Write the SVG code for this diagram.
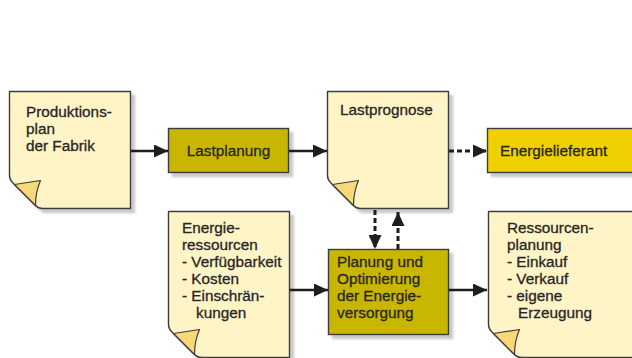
<svg xmlns="http://www.w3.org/2000/svg" width="632" height="358" viewBox="0 0 632 358">
<style>
.doc{fill:#fff4c6;stroke:#3c3c3c;stroke-width:1.4;stroke-linejoin:round}
.curl{fill:#f8d97a;stroke:#3c3c3c;stroke-width:1.2;stroke-linejoin:round}
.box{stroke:#3c3c3c;stroke-width:1.4}
.olive{fill:#c9b600}
.gold{fill:#f0d000}
.sh{filter:url(#shadow)}
text{font-family:"Liberation Sans",Arial,sans-serif;font-size:15.3px;fill:#262626;stroke:#262626;stroke-width:0.3}
.solid{fill:none;stroke:#1e1e1e;stroke-width:2.5}
.dot{fill:none;stroke:#1e1e1e;stroke-width:3;stroke-dasharray:5 3}
</style>
<defs>
<filter id="shadow" x="-10%" y="-10%" width="130%" height="130%">
<feDropShadow dx="4" dy="4" stdDeviation="1.2" flood-color="#8a8a8a" flood-opacity="0.45"/>
</filter>
<marker id="ah" markerUnits="userSpaceOnUse" markerWidth="14" markerHeight="13" refX="14" refY="6.5" orient="auto">
<path d="M0,0 L14,6.5 L0,13 Z" fill="#1e1e1e"/>
</marker>
</defs>
<g id="produktionsplan">
<path class="doc sh" d="M9.5,91.5 H130.5 V208.5 H42.5 Q38.5,208.5 35.5,205.5 L12.5,182.5 Q9.5,179.5 9.5,175.5 Z"/>
<path class="curl" d="M14.5,184.5 Q27.5,182.5 40.5,180.5 Q35.5,192 35.5,205.5 Z"/>
<text x="26" y="117">Produktions-</text>
<text x="26" y="134">plan</text>
<text x="26" y="151">der Fabrik</text>
</g>
<g id="lastplanung">
<rect class="box olive sh" x="168.5" y="128.5" width="120" height="44"/>
<text x="228.5" y="156" text-anchor="middle">Lastplanung</text>
</g>
<g id="lastprognose">
<path class="doc sh" d="M327.5,91.5 H448.5 V208.5 H360.5 Q356.5,208.5 353.5,205.5 L330.5,182.5 Q327.5,179.5 327.5,175.5 Z"/>
<path class="curl" d="M332.5,184.5 Q345.5,182.5 358.5,180.5 Q353.5,192 353.5,205.5 Z"/>
<text x="340" y="115">Lastprognose</text>
</g>
<g id="energielieferant">
<rect class="box gold sh" x="487.5" y="128.5" width="170" height="44"/>
<text x="500" y="156">Energielieferant</text>
</g>
<g id="energieressourcen">
<path class="doc sh" d="M168.5,211.5 H289.5 V357.5 H201.5 Q197.5,357.5 194.5,354.5 L171.5,331.5 Q168.5,328.5 168.5,324.5 Z"/>
<path class="curl" d="M173.5,333.5 Q186.5,331.5 199.5,329.5 Q194.5,341 194.5,354.5 Z"/>
<text x="182" y="233">Energie-</text>
<text x="182" y="250">ressourcen</text>
<text x="182" y="267">- Verfügbarkeit</text>
<text x="182" y="284">- Kosten</text>
<text x="182" y="301">- Einschrän-</text>
<text x="196" y="318">kungen</text>
</g>
<g id="planung">
<rect class="box olive sh" x="328.5" y="249.5" width="120" height="85"/>
<text x="337" y="267">Planung und</text>
<text x="337" y="284">Optimierung</text>
<text x="337" y="301">der Energie-</text>
<text x="337" y="318">versorgung</text>
</g>
<g id="ressourcenplanung">
<path class="doc sh" d="M488.5,211.5 H660 V357.5 H521.5 Q517.5,357.5 514.5,354.5 L491.5,331.5 Q488.5,328.5 488.5,324.5 Z"/>
<path class="curl" d="M493.5,333.5 Q506.5,331.5 519.5,329.5 Q514.5,341 514.5,354.5 Z"/>
<text x="507" y="233">Ressourcen-</text>
<text x="507" y="250">planung</text>
<text x="507" y="267">- Einkauf</text>
<text x="507" y="284">- Verkauf</text>
<text x="507" y="301">- eigene</text>
<text x="518" y="318">Erzeugung</text>
</g>
<g id="connectors">
<path class="solid" d="M131,151 H168" marker-end="url(#ah)"/>
<path class="solid" d="M289,151 H327" marker-end="url(#ah)"/>
<path class="dot" d="M449,151 H487" marker-end="url(#ah)"/>
<path class="solid" d="M290,290 H328" marker-end="url(#ah)"/>
<path class="solid" d="M449,290 H487" marker-end="url(#ah)"/>
<path class="dot" d="M375,210 V249" marker-end="url(#ah)"/>
<path class="dot" d="M398,249 V212" marker-end="url(#ah)"/>
</g>
</svg>
